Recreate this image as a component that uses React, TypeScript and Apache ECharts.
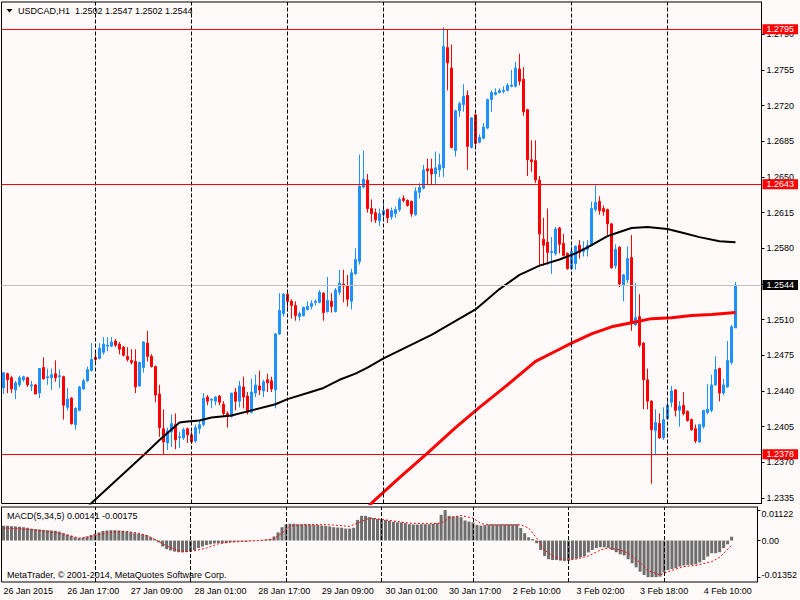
import React, { useEffect, useRef } from "react";
import * as echarts from "echarts";

// ---- time axis (H1 bars) ----
const sessionDays = ["26 Jan", "27 Jan", "28 Jan", "29 Jan", "30 Jan", "2 Feb", "3 Feb", "4 Feb"];
const sessionFirstHour = [1, 0, 0, 0, 0, 0, 0, 0];
const sessionBars = [23, 24, 24, 24, 23, 24, 24, 18];
const xTickLabels = [
  "26 Jan 2015", "26 Jan 17:00", "27 Jan 09:00", "28 Jan 01:00", "28 Jan 17:00", "29 Jan 09:00",
  "30 Jan 01:00", "30 Jan 17:00", "2 Feb 10:00", "3 Feb 02:00", "3 Feb 18:00", "4 Feb 10:00",
];
const labelEvery = 16;
const emptyBarsRight = 6;

// ---- USDCAD H1 OHLC ----
const opens = [
  1.2443, 1.2457, 1.2453, 1.2441, 1.2446, 1.2451, 1.2453, 1.2445, 1.2446, 1.2438,
  1.2463, 1.2453, 1.2453, 1.2457, 1.2454, 1.2454, 1.2424, 1.2433, 1.2407, 1.2421,
  1.2442, 1.2450, 1.2460, 1.2473, 1.2472, 1.2478, 1.2484, 1.2484, 1.2489, 1.2486,
  1.2483, 1.2474, 1.2470, 1.2469, 1.2445, 1.2463, 1.2487, 1.2474, 1.2464, 1.2437,
  1.2403, 1.2389, 1.2400, 1.2407, 1.2394, 1.2394, 1.2403, 1.2397, 1.2391, 1.2403,
  1.2407, 1.2434, 1.2431, 1.2430, 1.2435, 1.2427, 1.2418, 1.2415, 1.2439, 1.2430,
  1.2444, 1.2435, 1.2419, 1.2438, 1.2445, 1.2440, 1.2451, 1.2450, 1.2441, 1.2496,
  1.2516, 1.2535, 1.2528, 1.2524, 1.2513, 1.2514, 1.2520, 1.2523, 1.2527, 1.2527,
  1.2536, 1.2518, 1.2528, 1.2518, 1.2537, 1.2545, 1.2543, 1.2528, 1.2555, 1.2567,
  1.2640, 1.2647, 1.2619, 1.2615, 1.2607, 1.2613, 1.2618, 1.2611, 1.2614, 1.2618,
  1.2629, 1.2627, 1.2626, 1.2613, 1.2635, 1.2639, 1.2658, 1.2658, 1.2653, 1.2657,
  1.2659, 1.2777, 1.2757, 1.2676, 1.2715, 1.2721, 1.2730, 1.2679, 1.2711, 1.2684,
  1.2688, 1.2698, 1.2726, 1.2731, 1.2733, 1.2734, 1.2735, 1.2739, 1.2739, 1.2756,
  1.2746, 1.2716, 1.2667, 1.2666, 1.2647, 1.2589, 1.2586, 1.2576, 1.2575, 1.2600,
  1.2585, 1.2575, 1.2560, 1.2565, 1.2583, 1.2577, 1.2579, 1.2583, 1.2618, 1.2626,
  1.2619, 1.2618, 1.2604, 1.2563, 1.2581, 1.2544, 1.2549, 1.2571, 1.2505, 1.2513,
  1.2487, 1.2451, 1.2430, 1.2401, 1.2408, 1.2394, 1.2413, 1.2429, 1.2441, 1.2421,
  1.2426, 1.2420, 1.2412, 1.2403, 1.2390, 1.2405, 1.2419, 1.2421, 1.2446, 1.2462,
  1.2438, 1.2444, 1.2468, 1.2502,
];
const highs = [
  1.2458, 1.2458, 1.2455, 1.2450, 1.2455, 1.2455, 1.2454, 1.2450, 1.2447, 1.2462,
  1.2473, 1.2462, 1.2462, 1.2470, 1.2461, 1.2455, 1.2443, 1.2434, 1.2424, 1.2445,
  1.2452, 1.2464, 1.2487, 1.2477, 1.2487, 1.2493, 1.2493, 1.2493, 1.2491, 1.2488,
  1.2484, 1.2483, 1.2481, 1.2481, 1.2469, 1.2489, 1.2499, 1.2476, 1.2465, 1.2446,
  1.2422, 1.2404, 1.2417, 1.2418, 1.2400, 1.2404, 1.2404, 1.2400, 1.2407, 1.2410,
  1.2438, 1.2436, 1.2433, 1.2435, 1.2436, 1.2430, 1.2420, 1.2438, 1.2443, 1.2450,
  1.2454, 1.2439, 1.2452, 1.2456, 1.2460, 1.2451, 1.2457, 1.2454, 1.2497, 1.2536,
  1.2536, 1.2536, 1.2530, 1.2528, 1.2518, 1.2523, 1.2528, 1.2529, 1.2530, 1.2539,
  1.2537, 1.2552, 1.2536, 1.2541, 1.2559, 1.2559, 1.2554, 1.2560, 1.2580, 1.2672,
  1.2676, 1.2653, 1.2628, 1.2619, 1.2619, 1.2628, 1.2619, 1.2620, 1.2621, 1.2630,
  1.2632, 1.2628, 1.2627, 1.2640, 1.2644, 1.2662, 1.2668, 1.2668, 1.2675, 1.2673,
  1.2797, 1.2795, 1.2780, 1.2716, 1.2724, 1.2741, 1.2735, 1.2709, 1.2712, 1.2692,
  1.2703, 1.2727, 1.2735, 1.2737, 1.2737, 1.2739, 1.2742, 1.2755, 1.2763, 1.2771,
  1.2758, 1.2717, 1.2686, 1.2686, 1.2651, 1.2610, 1.2619, 1.2591, 1.2601, 1.2601,
  1.2594, 1.2576, 1.2582, 1.2583, 1.2588, 1.2587, 1.2588, 1.2626, 1.2642, 1.2631,
  1.2622, 1.2619, 1.2605, 1.2584, 1.2582, 1.2555, 1.2582, 1.2593, 1.2546, 1.2535,
  1.2488, 1.2462, 1.2431, 1.2422, 1.2418, 1.2424, 1.2430, 1.2445, 1.2442, 1.2430,
  1.2439, 1.2421, 1.2413, 1.2407, 1.2408, 1.2421, 1.2447, 1.2456, 1.2474, 1.2463,
  1.2452, 1.2489, 1.2505, 1.2547,
];
const lows = [
  1.2437, 1.2438, 1.2438, 1.2432, 1.2444, 1.2449, 1.2444, 1.2440, 1.2437, 1.2433,
  1.2451, 1.2446, 1.2441, 1.2449, 1.2443, 1.2412, 1.2421, 1.2407, 1.2402, 1.2420,
  1.2441, 1.2449, 1.2459, 1.2468, 1.2471, 1.2476, 1.2479, 1.2483, 1.2483, 1.2476,
  1.2474, 1.2469, 1.2466, 1.2438, 1.2444, 1.2458, 1.2469, 1.2463, 1.2429, 1.2395,
  1.2378, 1.2382, 1.2385, 1.2383, 1.2384, 1.2392, 1.2389, 1.2388, 1.2389, 1.2398,
  1.2405, 1.2426, 1.2423, 1.2426, 1.2426, 1.2415, 1.2404, 1.2414, 1.2421, 1.2424,
  1.2423, 1.2417, 1.2418, 1.2434, 1.2436, 1.2434, 1.2439, 1.2439, 1.2423, 1.2495,
  1.2513, 1.2518, 1.2511, 1.2509, 1.2509, 1.2513, 1.2519, 1.2520, 1.2524, 1.2526,
  1.2509, 1.2517, 1.2517, 1.2517, 1.2534, 1.2527, 1.2523, 1.2520, 1.2554, 1.2564,
  1.2639, 1.2615, 1.2606, 1.2605, 1.2602, 1.2608, 1.2605, 1.2608, 1.2610, 1.2616,
  1.2625, 1.2621, 1.2611, 1.2612, 1.2629, 1.2638, 1.2643, 1.2643, 1.2642, 1.2650,
  1.2650, 1.2735, 1.2678, 1.2670, 1.2709, 1.2714, 1.2657, 1.2678, 1.2680, 1.2683,
  1.2687, 1.2697, 1.2714, 1.2730, 1.2732, 1.2732, 1.2734, 1.2738, 1.2738, 1.2740,
  1.2710, 1.2651, 1.2655, 1.2644, 1.2562, 1.2563, 1.2564, 1.2555, 1.2573, 1.2575,
  1.2572, 1.2559, 1.2559, 1.2559, 1.2570, 1.2572, 1.2572, 1.2582, 1.2616, 1.2613,
  1.2612, 1.2592, 1.2560, 1.2560, 1.2542, 1.2528, 1.2546, 1.2499, 1.2504, 1.2483,
  1.2422, 1.2422, 1.2349, 1.2377, 1.2393, 1.2392, 1.2412, 1.2424, 1.2415, 1.2405,
  1.2416, 1.2410, 1.2401, 1.2389, 1.2389, 1.2403, 1.2417, 1.2419, 1.2445, 1.2430,
  1.2436, 1.2443, 1.2466, 1.2502,
];
const closes = [
  1.2458, 1.2451, 1.2442, 1.2448, 1.2453, 1.2454, 1.2446, 1.2446, 1.2437, 1.2462,
  1.2452, 1.2454, 1.2456, 1.2453, 1.2455, 1.2426, 1.2432, 1.2408, 1.2423, 1.2444,
  1.2450, 1.2461, 1.2471, 1.2471, 1.2482, 1.2486, 1.2485, 1.2488, 1.2485, 1.2481,
  1.2475, 1.2471, 1.2468, 1.2444, 1.2468, 1.2488, 1.2474, 1.2464, 1.2436, 1.2404,
  1.2390, 1.2401, 1.2408, 1.2392, 1.2395, 1.2402, 1.2397, 1.2390, 1.2404, 1.2407,
  1.2433, 1.2430, 1.2432, 1.2434, 1.2429, 1.2418, 1.2415, 1.2438, 1.2430, 1.2445,
  1.2434, 1.2419, 1.2439, 1.2446, 1.2441, 1.2449, 1.2448, 1.2442, 1.2496, 1.2519,
  1.2535, 1.2528, 1.2524, 1.2514, 1.2516, 1.2522, 1.2523, 1.2526, 1.2528, 1.2537,
  1.2517, 1.2529, 1.2523, 1.2539, 1.2546, 1.2543, 1.2530, 1.2556, 1.2569, 1.2641,
  1.2648, 1.2619, 1.2614, 1.2608, 1.2614, 1.2617, 1.2610, 1.2617, 1.2618, 1.2628,
  1.2627, 1.2622, 1.2614, 1.2636, 1.2640, 1.2657, 1.2656, 1.2653, 1.2659, 1.2662,
  1.2778, 1.2762, 1.2679, 1.2715, 1.2722, 1.2729, 1.2680, 1.2708, 1.2683, 1.2689,
  1.2699, 1.2726, 1.2733, 1.2733, 1.2735, 1.2735, 1.2740, 1.2740, 1.2757, 1.2744,
  1.2714, 1.2667, 1.2665, 1.2647, 1.2594, 1.2583, 1.2576, 1.2577, 1.2599, 1.2584,
  1.2573, 1.2560, 1.2577, 1.2582, 1.2576, 1.2580, 1.2583, 1.2619, 1.2625, 1.2617,
  1.2616, 1.2604, 1.2561, 1.2579, 1.2545, 1.2554, 1.2570, 1.2507, 1.2512, 1.2485,
  1.2451, 1.2430, 1.2402, 1.2409, 1.2394, 1.2412, 1.2426, 1.2440, 1.2421, 1.2425,
  1.2418, 1.2411, 1.2402, 1.2391, 1.2407, 1.2421, 1.2422, 1.2446, 1.2461, 1.2438,
  1.2446, 1.2470, 1.2503, 1.2544,
];

// ---- moving averages, read at selected bars [barIndex, price] ----
const blackMA = [
  [21, 1.2326], [22, 1.2330], [35, 1.2377], [39, 1.2392], [44, 1.2409], [46, 1.2410], [49, 1.2411],
  [52, 1.2414], [57, 1.2416], [62, 1.2421], [68, 1.2427], [71, 1.2432], [76, 1.2438], [80, 1.2443],
  [84, 1.2451], [88, 1.2457], [91, 1.2463], [95, 1.2472], [107, 1.2495], [118, 1.2520], [124, 1.2540],
  [129, 1.2554], [134, 1.2563], [139, 1.2569], [143, 1.2575], [146, 1.2581], [151, 1.2592], [154, 1.2596],
  [157, 1.2600], [161, 1.2601], [166, 1.2599], [170, 1.2595], [174, 1.2591], [179, 1.2587], [183, 1.2586],
];
const redMA = [
  [91, 1.2325], [92, 1.2330], [99, 1.2355], [106, 1.2379], [113, 1.2404], [119, 1.2424], [126, 1.2446],
  [133, 1.2469], [138, 1.2479], [142, 1.2487], [147, 1.2496], [152, 1.2503], [157, 1.2507], [162, 1.2511],
  [167, 1.2512], [172, 1.2514], [177, 1.2515], [183, 1.2517],
];

// ---- price levels ----
const levelLines = [1.2795, 1.2643, 1.2378];
const bidPrice = 1.2544;
const priceTicks = [1.2335, 1.2370, 1.2405, 1.2440, 1.2475, 1.2510, 1.2545, 1.2580, 1.2615, 1.2650, 1.2685, 1.2720, 1.2755, 1.2790];

// ---- MACD(5,34,5) ----
const macdHist = [
  0.0054, 0.0054, 0.0053, 0.0052, 0.0051, 0.0049, 0.0047, 0.0044, 0.0042, 0.0041,
  0.0039, 0.0038, 0.0037, 0.0036, 0.0033, 0.0027, 0.0022, 0.0017, 0.0012, 0.0009,
  0.0010, 0.0015, 0.0020, 0.0025, 0.0030, 0.0035, 0.0037, 0.0038, 0.0038, 0.0037,
  0.0036, 0.0033, 0.0031, 0.0027, 0.0025, 0.0023, 0.0020, 0.0012, 0.0005, -0.0007,
  -0.0022, -0.0032, -0.0037, -0.0041, -0.0043, -0.0044, -0.0043, -0.0041, -0.0035, -0.0028,
  -0.0022, -0.0017, -0.0014, -0.0011, -0.0010, -0.0010, -0.0009, -0.0006, -0.0005, -0.0004,
  -0.0004, -0.0004, -0.0002, -0.0001, 0.0001, 0.0002, 0.0004, 0.0006, 0.0015, 0.0030,
  0.0049, 0.0059, 0.0062, 0.0062, 0.0060, 0.0060, 0.0059, 0.0059, 0.0058, 0.0057,
  0.0055, 0.0054, 0.0052, 0.0049, 0.0048, 0.0047, 0.0044, 0.0044, 0.0047, 0.0076,
  0.0091, 0.0091, 0.0086, 0.0083, 0.0080, 0.0079, 0.0076, 0.0073, 0.0069, 0.0067,
  0.0067, 0.0064, 0.0060, 0.0059, 0.0059, 0.0060, 0.0060, 0.0060, 0.0062, 0.0064,
  0.0095, 0.01122, 0.0091, 0.0089, 0.0089, 0.0086, 0.0074, 0.0070, 0.0067, 0.0058,
  0.0055, 0.0057, 0.0059, 0.0060, 0.0060, 0.0060, 0.0060, 0.0060, 0.0060, 0.0060,
  0.0046, 0.0027, 0.0012, 0.0005, -0.0010, -0.0035, -0.0057, -0.0069, -0.0072, -0.0072,
  -0.0074, -0.0075, -0.0075, -0.0069, -0.0067, -0.0062, -0.0057, -0.0044, -0.0035, -0.0028,
  -0.0025, -0.0025, -0.0027, -0.0035, -0.0043, -0.0051, -0.0055, -0.0069, -0.0084, -0.0099,
  -0.0115, -0.0127, -0.0135, -0.01352, -0.0135, -0.0133, -0.0118, -0.0109, -0.0105, -0.0102,
  -0.0096, -0.0092, -0.0090, -0.0090, -0.0088, -0.0081, -0.0072, -0.0059, -0.0047, -0.0047,
  -0.0043, -0.0028, -0.0014, 0.00141,
];
const macdSignal = [
  [0, 0.0046], [4, 0.0043], [9, 0.0037], [14, 0.0027], [17, 0.0017], [19, 0.0009], [21, 0.0012],
  [24, 0.0022], [27, 0.0031], [31, 0.0033], [34, 0.0027], [37, 0.0012], [41, -0.0020], [44, -0.0038],
  [47, -0.0041], [51, -0.0028], [54, -0.0012], [57, -0.0006], [62, -0.0002], [66, 0.0002], [68, 0.0006],
  [71, 0.0039], [72, 0.0054], [76, 0.0059], [82, 0.0058], [87, 0.0052], [90, 0.0070], [92, 0.0083],
  [96, 0.0076], [99, 0.0070], [102, 0.0064], [107, 0.0062], [110, 0.0064], [112, 0.0083], [115, 0.0092],
  [118, 0.0083], [120, 0.0062], [123, 0.0057], [130, 0.0058], [132, 0.0046], [134, 0.0009], [136, -0.0035],
  [138, -0.0057], [141, -0.0072], [144, -0.0068], [147, -0.0057], [150, -0.0035], [152, -0.0027],
  [155, -0.0035], [157, -0.0047], [160, -0.0081], [162, -0.0111], [165, -0.0127], [167, -0.0115],
  [171, -0.0096], [174, -0.0092], [178, -0.0078], [180, -0.0062], [183, -0.00175],
];
const macdTicks = [0.01122, 0, -0.01352];

const FONT = "Liberation Sans";
const FS = 9;

function buildCategories() {
  const cats: string[] = [];
  sessionDays.forEach((d, k) => {
    for (let h = sessionFirstHour[k]; h < sessionFirstHour[k] + sessionBars[k]; h++) {
      cats.push(`${d} ${String(h).padStart(2, "0")}:00`);
    }
  });
  for (let p = 0; p < emptyBarsRight; p++) cats.push(`pad${p}`);
  return cats;
}

function dayStartIndices() {
  const out: number[] = [];
  let acc = 0;
  for (let k = 0; k < sessionBars.length - 1; k++) {
    acc += sessionBars[k];
    out.push(acc);
  }
  return out;
}

function buildOption() {
  const cats = buildCategories();
  const nBars = opens.length;
  const days = dayStartIndices();
  const candles = opens.map((o, i) => [o, closes[i], lows[i], highs[i]]);

  const vLines = days.map((d) => ({
    xAxis: d,
    lineStyle: { color: "#000", type: [4, 2], width: 1 },
    label: { show: false },
  }));
  const levelLabel = (bg: string) => ({
    show: true,
    position: "end",
    distance: 1,
    formatter: (p: any) => Number(p.value).toFixed(4),
    backgroundColor: bg,
    color: "#fff",
    fontFamily: FONT,
    fontSize: FS,
    lineHeight: 10,
    padding: [0, 4, 0, 4],
  });
  const hLines = levelLines.map((v) => ({
    yAxis: v,
    lineStyle: { color: "#ff0000", type: "solid", width: 1 },
    label: levelLabel("#ff0000"),
  }));
  const bidLine = {
    yAxis: bidPrice,
    lineStyle: { color: "#c0c0c0", type: "solid", width: 1 },
    label: levelLabel("#000000"),
  };

  const textStyle = { fontFamily: FONT, fontSize: FS, fill: "#000" };

  return {
    animation: false,
    backgroundColor: "#fffafa",
    textStyle: { fontFamily: FONT, fontSize: FS },
    grid: [
      { left: 1.5, top: 2, width: 760, height: 501.5, show: true, borderColor: "#000", borderWidth: 1, backgroundColor: "transparent" },
      { left: 1.5, top: 507, width: 760, height: 75, show: true, borderColor: "#000", borderWidth: 1, backgroundColor: "transparent" },
    ],
    xAxis: [
      { type: "category", gridIndex: 0, data: cats, boundaryGap: true, show: false },
      {
        type: "category",
        gridIndex: 1,
        data: cats,
        boundaryGap: true,
        axisLine: { show: false },
        axisTick: { show: false },
        splitLine: { show: false },
        axisLabel: {
          show: true,
          interval: (idx: number) => idx % labelEvery === 0 && idx < nBars,
          formatter: (_v: string, idx: number) => xTickLabels[Math.round(idx / labelEvery)] ?? "",
          align: "left",
          margin: 4,
          color: "#000",
          fontFamily: FONT,
          fontSize: FS,
        },
      },
    ],
    yAxis: [
      {
        type: "value",
        gridIndex: 0,
        position: "right",
        min: 1.23296,
        max: 1.282175,
        splitLine: { show: false },
        axisLine: { show: true, lineStyle: { color: "#000", width: 1 } },
        axisTick: { show: true, inside: false, length: 3, lineStyle: { color: "#000" }, customValues: priceTicks },
        axisLabel: {
          customValues: priceTicks,
          formatter: (v: number) => v.toFixed(4),
          margin: 5,
          color: "#000",
          fontFamily: FONT,
          fontSize: FS,
        },
      },
      {
        type: "value",
        gridIndex: 1,
        position: "right",
        min: -0.0153,
        max: 0.01236,
        splitLine: { show: false },
        axisLine: { show: true, lineStyle: { color: "#000", width: 1 } },
        axisTick: { show: true, inside: false, length: 3, lineStyle: { color: "#000" }, customValues: macdTicks },
        axisLabel: {
          customValues: macdTicks,
          formatter: (v: number) =>
            v === 0 ? "0.00" : v > 0 ? `{top|${v.toFixed(5)}}` : `{bot|${v.toFixed(5)}}`,
          rich: {
            top: { padding: [8, 0, 0, 0], fontFamily: FONT, fontSize: FS, color: "#000" },
            bot: { padding: [0, 0, 4, 0], fontFamily: FONT, fontSize: FS, color: "#000" },
          },
          margin: 4,
          color: "#000",
          fontFamily: FONT,
          fontSize: FS,
        },
      },
    ],
    series: [
      {
        type: "candlestick",
        xAxisIndex: 0,
        yAxisIndex: 0,
        data: candles,
        barWidth: 2,
        itemStyle: { color: "#1e90ff", color0: "#ff0000", borderColor: "#1e90ff", borderColor0: "#ff0000", borderWidth: 1 },
        emphasis: { disabled: true },
        markLine: {
          silent: true,
          symbol: ["none", "none"],
          animation: false,
          precision: 4,
          data: [bidLine, ...vLines, ...hLines],
        },
      },
      {
        type: "line",
        xAxisIndex: 0,
        yAxisIndex: 0,
        data: blackMA,
        symbol: "none",
        lineStyle: { color: "#000", width: 2 },
        clip: true,
        emphasis: { disabled: true },
      },
      {
        type: "line",
        xAxisIndex: 0,
        yAxisIndex: 0,
        data: redMA,
        symbol: "none",
        lineStyle: { color: "#ff0000", width: 3 },
        clip: true,
        emphasis: { disabled: true },
      },
      {
        type: "bar",
        xAxisIndex: 1,
        yAxisIndex: 1,
        data: macdHist,
        barWidth: 3,
        itemStyle: { color: "#6e6e6e" },
        emphasis: { disabled: true },
        markLine: {
          silent: true,
          symbol: ["none", "none"],
          animation: false,
          data: vLines,
        },
      },
      {
        type: "line",
        xAxisIndex: 1,
        yAxisIndex: 1,
        data: macdSignal,
        symbol: "none",
        lineStyle: { color: "#ff0000", width: 1, type: [2, 2] },
        emphasis: { disabled: true },
      },
    ],
    graphic: [
      { type: "polygon", shape: { points: [[6.5, 9], [12.5, 9], [9.5, 12.5]] }, style: { fill: "#000" } },
      { type: "text", x: 18, y: 11, style: { ...textStyle, text: "USDCAD,H1  1.2502 1.2547 1.2502 1.2544", verticalAlign: "middle" } },
      { type: "text", x: 7, y: 516, style: { ...textStyle, text: "MACD(5,34,5) 0.00141 -0.00175", verticalAlign: "middle" } },
      { type: "text", x: 7, y: 575, style: { ...textStyle, text: "MetaTrader, © 2001-2014, MetaQuotes Software Corp.", verticalAlign: "middle" } },
    ],
  };
}

export default function App() {
  const ref = useRef<HTMLDivElement>(null);
  useEffect(() => {
    if (!ref.current) return;
    const chart = echarts.init(ref.current, undefined, { renderer: "svg" });
    chart.setOption(buildOption() as any);
    return () => chart.dispose();
  }, []);
  return <div ref={ref} style={{ position: "absolute", left: 0, top: 0, width: 800, height: 600 }} />;
}
